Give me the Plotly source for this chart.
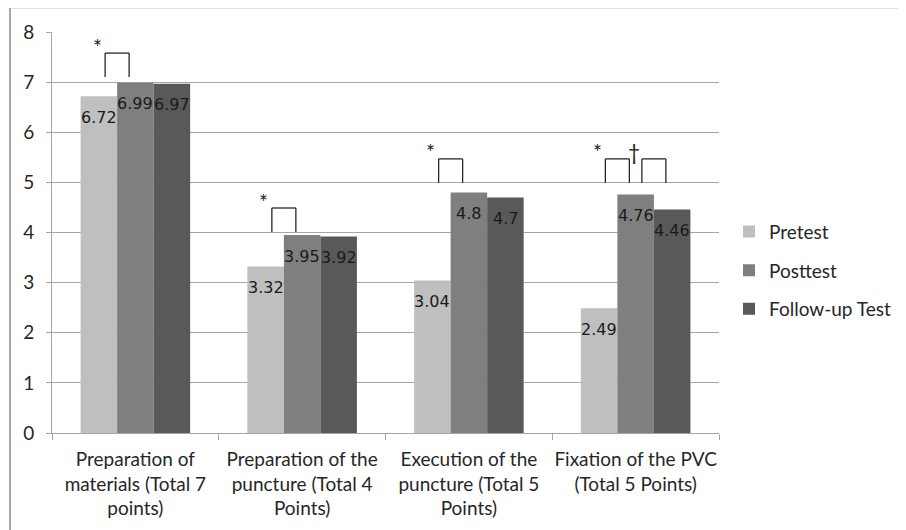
import plotly.graph_objects as go

categories = [
    "Preparation of<br>materials (Total 7<br>points)",
    "Preparation of the<br>puncture (Total 4<br>Points)",
    "Execution of the<br>puncture (Total 5<br>Points)",
    "Fixation of the PVC<br>(Total 5 Points)",
]
series_names = ["Pretest", "Posttest", "Follow-up Test"]
pretest = [6.72, 3.32, 3.04, 2.49]
posttest = [6.99, 3.95, 4.8, 4.76]
followup = [6.97, 3.92, 4.7, 4.46]
value_labels = [
    ["6.72", "3.32", "3.04", "2.49"],
    ["6.99", "3.95", "4.8", "4.76"],
    ["6.97", "3.92", "4.7", "4.46"],
]
# significance markers: (category index, first series, second series, symbol, bracket base level)
sig_marks = [
    (0, 0, 1, "*", 7.10),
    (1, 0, 1, "*", 4.01),
    (2, 0, 1, "*", 4.99),
    (3, 0, 1, "*", 4.99),
    (3, 1, 2, "\u2020", 4.99),
]

colors = ["#bfbfbf", "#7f7f7f", "#595959"]
series = [pretest, posttest, followup]

BARGAP = 0.343
BAR_W = (1 - BARGAP) / 3
FONT = "Lato"

# page body has an 8px margin; figure sized to fit the window
L, R, T, B = 44, 187, 24, 97
W, H = 898, 522
plot_w = W - L - R
plot_h = H - T - B
px_per_cat = plot_w / len(categories)
px_per_unit = plot_h / 8

fig = go.Figure()
for k, (name, vals) in enumerate(zip(series_names, series)):
    fig.add_trace(go.Bar(
        x=categories, y=vals, name=name,
        marker=dict(color=colors[k], line=dict(width=0)),
        legendgroup=name,
    ))

annotations = []
# value labels, inside end of each bar
for k, vals in enumerate(series):
    for i, v in enumerate(vals):
        annotations.append(dict(
            x=i + (k - 1) * BAR_W, y=v, xref="x", yref="y",
            text=value_labels[k][i], showarrow=False,
            yanchor="middle", xanchor="center", yshift=-21,
            font=dict(family="DejaVu Sans", size=16, color="#1a1a1a"),
        ))

shapes = []
half = 12 / px_per_cat
bh = 24 / px_per_unit
for (ci, a, b, sym, base) in sig_marks:
    center = ci + ((a + b) / 2 - 1) * BAR_W
    x0, x1 = center - half, center + half
    top = base + bh
    line = dict(color="#262626", width=1.3)
    shapes.append(dict(type="line", xref="x", yref="y", x0=x0, x1=x0, y0=base, y1=top, line=line))
    shapes.append(dict(type="line", xref="x", yref="y", x0=x0, x1=x1, y0=top, y1=top, line=line))
    shapes.append(dict(type="line", xref="x", yref="y", x0=x1, x1=x1, y0=top, y1=base, line=line))
    annotations.append(dict(
        x=x0, y=top, xref="x", yref="y", text=sym, showarrow=False,
        xanchor="center", yanchor="middle", xshift=-8, yshift=7,
        font=dict(family="Lato", size=21, color="#222222"),
    ))

# chart-area border (top and left edges visible)
bx = (2 - L) / plot_w
by = (H - B + 0.5) / plot_h
shapes.append(dict(type="line", xref="paper", yref="paper", x0=bx, x1=(W - L) / plot_w + 0.02,
                   y0=by, y1=by, line=dict(color="#8c8c8c", width=1.5)))
shapes.append(dict(type="line", xref="paper", yref="paper", x0=bx, x1=bx,
                   y0=by, y1=-(B + 10) / plot_h, line=dict(color="#8c8c8c", width=1.5)))

fig.update_layout(
    width=W, height=H,
    margin=dict(l=L, r=R, t=T, b=B, autoexpand=False),
    paper_bgcolor="white", plot_bgcolor="white",
    barmode="group", bargap=BARGAP, bargroupgap=0,
    font=dict(family=FONT, size=19, color="#262626"),
    showlegend=True,
    legend=dict(
        x=1.015, xanchor="left", y=0.405, yanchor="middle",
        font=dict(family=FONT, size=19, color="#262626"),
        tracegroupgap=11, itemwidth=30,
        bgcolor="rgba(0,0,0,0)",
    ),
    annotations=annotations,
    shapes=shapes,
)
fig.update_xaxes(
    type="category", tickangle=0, automargin=False,
    showline=True, linecolor="#a6a6a6", linewidth=1,
    ticks="outside", tickson="boundaries", ticklen=6, tickcolor="#a6a6a6",
    tickfont=dict(family=FONT, size=19, color="#262626"),
    ticklabelstandoff=9,
    range=[-0.5, 3.5], showgrid=False,
)
fig.update_yaxes(
    range=[0, 8], dtick=1, automargin=False,
    showline=True, linecolor="#a6a6a6", linewidth=1,
    ticks="outside", ticklen=5, tickcolor="#a6a6a6",
    showgrid=True, gridcolor="#a6a6a6", gridwidth=1,
    zeroline=False,
    tickfont=dict(family=FONT, size=19, color="#262626"),
    ticklabelstandoff=8,
)

fig.write_html("out.html")
